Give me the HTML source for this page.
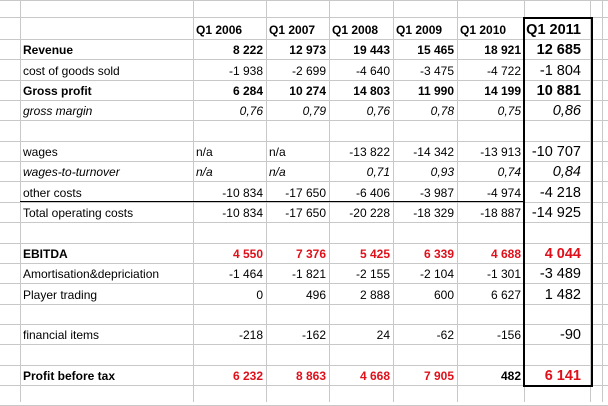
<!DOCTYPE html>
<html><head><meta charset="utf-8"><style>
body{margin:0;width:608px;height:402px;background:#fff;overflow:hidden;font-family:"Liberation Sans",Arial,sans-serif;font-size:12px;color:#000}
.h{position:absolute;left:0;width:608px;height:1px;background:#c8c8c8}
.v{position:absolute;top:0;height:402px;width:1px;background:#c8c8c8}
.t{position:absolute;white-space:nowrap;line-height:20px}
.r{text-align:right}
.b{font-weight:bold}
.i{font-style:italic}
.red{color:#e0101a;font-weight:bold}
.big{font-size:14.5px}
</style></head><body>
<div id="g"></div>
<div style="position:absolute;left:20px;top:201px;width:505px;height:1px;background:#000"></div>
<div style="position:absolute;left:523px;top:17px;width:66px;height:366px;border:2px solid #000"></div>
<script>
var g=document.getElementById('g'),h='';
var rows=[0,17,39];for(var k=1;k<=18;k++)rows.push(Math.round(39+k*20.35));
rows.forEach(function(y){h+='<div class="h" style="top:'+y+'px"></div>'});
var cols=[20,193,266,329,393,457,524,590,602];
cols.forEach(function(x){h+='<div class="v" style="left:'+x+'px"></div>'});
var data=[
["","Q1 2006","Q1 2007","Q1 2008","Q1 2009","Q1 2010","Q1 2011","hb"],
["Revenue","8 222","12 973","19 443","15 465","18 921","12 685","b"],
["cost of goods sold","-1 938","-2 699","-4 640","-3 475","-4 722","-1 804",""],
["Gross profit","6 284","10 274","14 803","11 990","14 199","10 881","b"],
["gross margin","0,76","0,79","0,76","0,78","0,75","0,86","i"],
["","","","","","","",""],
["wages","n/a","n/a","-13 822","-14 342","-13 913","-10 707","na"],
["wages-to-turnover","n/a","n/a","0,71","0,93","0,74","0,84","ina"],
["other costs","-10 834","-17 650","-6 406","-3 987","-4 974","-4 218",""],
["Total operating costs","-10 834","-17 650","-20 228","-18 329","-18 887","-14 925",""],
["","","","","","","",""],
["EBITDA","4 550","7 376","5 425","6 339","4 688","4 044","redb"],
["Amortisation&depriciation","-1 464","-1 821","-2 155","-2 104","-1 301","-3 489",""],
["Player trading","0","496","2 888","600","6 627","1 482",""],
["","","","","","","",""],
["financial items","-218","-162","24","-62","-156","-90",""],
["","","","","","","",""],
["Profit before tax","6 232","8 863","4 668","7 905","482","6 141","pbt"]];
data.forEach(function(r,ri){
 var top=ri==0?20:rows[ri+2]-19;var st=r[7];
 var lc=(st=="b"||st=="redb"||st=="pbt")?"b":(st=="i"||st=="ina")?"i":"";
 h+='<div class="t '+lc+'" style="left:23px;top:'+top+'px">'+r[0]+'</div>';
 for(var c=1;c<=6;c++){
  var x0=cols[c],x1=cols[c+1],cls="t",s=r[c];
  if(st=="hb")cls+=" b";
  if(st=="b")cls+=" b";
  if(st=="i"||(st=="ina"))cls+=" i";
  if(st=="redb")cls+=" red";
  if(st=="pbt")cls+=(c==5?" b":" red");
  if(c==6)cls+=" big";
  var na=(s=="n/a");
  if(na||st=="hb"&&c<6) h+='<div class="'+cls+'" style="left:'+(x0+3)+'px;top:'+top+'px">'+s+'</div>';
  else h+='<div class="'+cls+' r" style="left:'+x0+'px;width:'+(x1-x0-3-(c==6?6:0))+'px;top:'+top+'px">'+s+'</div>';
 }
});
g.innerHTML=h;
</script>
</body></html>
